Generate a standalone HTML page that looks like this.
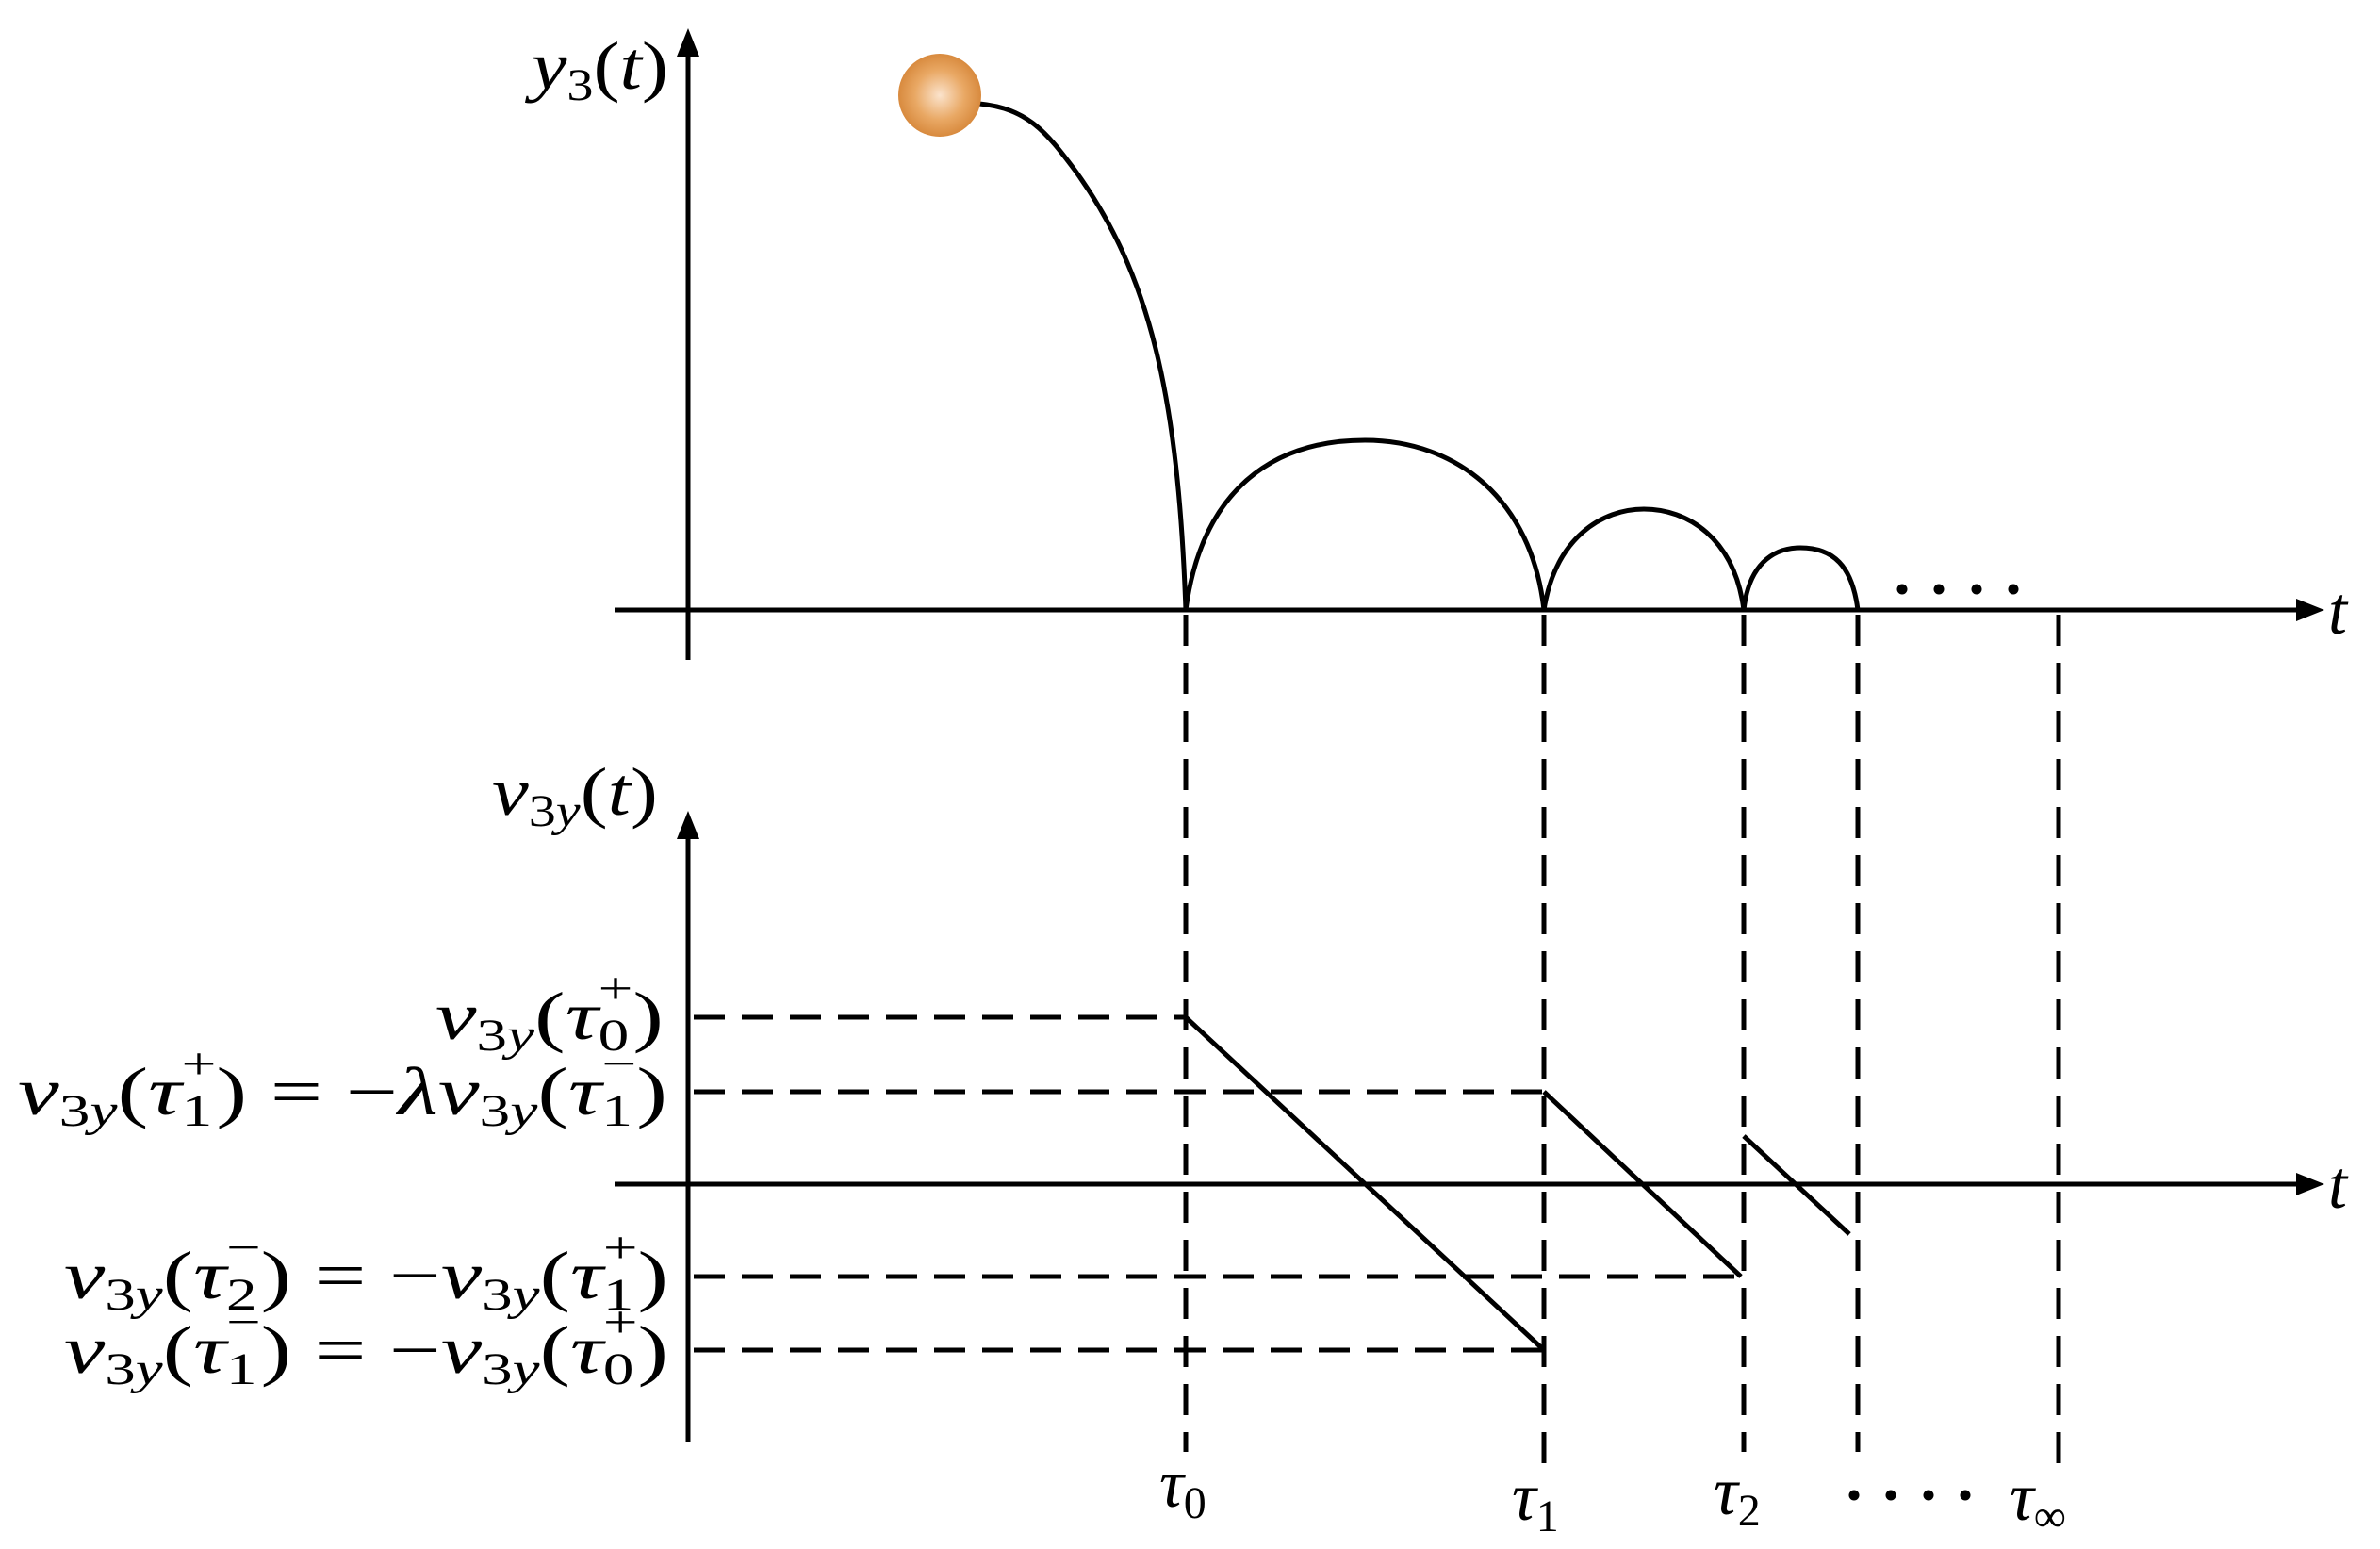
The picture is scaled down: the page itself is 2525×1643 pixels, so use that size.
<!DOCTYPE html>
<html><head><meta charset="utf-8"><style>
html,body{margin:0;padding:0;background:#fff;}
svg{display:block;}
text{font-family:"Liberation Serif","DejaVu Serif",serif;fill:#000;}
.m{font-style:italic;font-size:72px;}
.r{font-style:normal;}
.s{font-size:48px;}
</style></head><body>
<svg width="2525" height="1643" viewBox="0 0 2525 1643" xmlns="http://www.w3.org/2000/svg">
<defs>
<radialGradient id="g" cx="0.5" cy="0.5" r="0.5">
<stop offset="0" stop-color="#fbe3cc"/><stop offset="0.6" stop-color="#e9a864"/><stop offset="1" stop-color="#d88a3e"/>
</radialGradient>
</defs>
<g stroke="#000" stroke-width="5" fill="none">
<line x1="730" y1="700" x2="730" y2="50"/>
<line x1="652" y1="647" x2="2440" y2="647"/>
<line x1="730" y1="1530" x2="730" y2="880"/>
<line x1="652" y1="1256" x2="2440" y2="1256"/>
<path d="M1039,110 C1090,115 1110,140 1140,180 C1220,290 1250,420 1258,647"/>
<path d="M1258,647 C1275,520 1350,467 1448,467 C1546,467 1625,530 1638,647"/>
<path d="M1638,647 C1650,570 1700,540 1744,540 C1790,540 1840,570 1850,647"/>
<path d="M1850,647 C1855,600 1880,581 1910,581 C1945,581 1965,600 1971,647"/>
<line x1="1258" y1="1079" x2="1638" y2="1432"/>
<line x1="1638" y1="1158" x2="1847" y2="1354"/>
<line x1="1850" y1="1205" x2="1962" y2="1309"/>
</g>
<g stroke="#000" stroke-width="5" fill="none" stroke-dasharray="33 18">
<line x1="1258" y1="652" x2="1258" y2="1540"/>
<line x1="1638" y1="652" x2="1638" y2="1560"/>
<line x1="1850" y1="652" x2="1850" y2="1540"/>
<line x1="1971" y1="652" x2="1971" y2="1540"/>
<line x1="2184" y1="652" x2="2184" y2="1560"/>
<line x1="736" y1="1079" x2="1258" y2="1079"/>
<line x1="736" y1="1158" x2="1638" y2="1158"/>
<line x1="736" y1="1354" x2="1840" y2="1354"/>
<line x1="736" y1="1432" x2="1638" y2="1432"/>
</g>
<polygon points="730,30 718,60 742,60" fill="#000"/>
<polygon points="2466,647 2436,635 2436,659" fill="#000"/>
<polygon points="730,860 718,890 742,890" fill="#000"/>
<polygon points="2466,1256 2436,1244 2436,1268" fill="#000"/>
<circle cx="997" cy="101" r="44" fill="url(#g)"/>
<g fill="#000">
<circle cx="2018" cy="625" r="5.5"/><circle cx="2057" cy="625" r="5.5"/><circle cx="2097" cy="625" r="5.5"/><circle cx="2136" cy="625" r="5.5"/>
<circle cx="1967" cy="1586" r="5.5"/><circle cx="2006" cy="1586" r="5.5"/><circle cx="2046" cy="1586" r="5.5"/><circle cx="2085" cy="1586" r="5.5"/>
</g>
<text class="m" x="2470" y="672" font-size="80">t</text>
<text class="m" x="2470" y="1281" font-size="80">t</text>
<text class="m" x="564" y="94" textLength="145" lengthAdjust="spacingAndGlyphs">y<tspan class="s r" dy="12">3</tspan><tspan class="r" dy="-12">(</tspan>t<tspan class="r">)</tspan></text>
<text class="m" x="522" y="864" textLength="176" lengthAdjust="spacingAndGlyphs">v<tspan class="s r" dy="12">3</tspan><tspan class="s">y</tspan><tspan class="r" dy="-12">(</tspan>t<tspan class="r">)</tspan></text>
<text class="m" x="462" y="1102" textLength="242" lengthAdjust="spacingAndGlyphs">v<tspan class="s r" dy="12">3</tspan><tspan class="s">y</tspan><tspan class="r" dy="-12">(</tspan>τ<tspan class="s r" dy="12">0</tspan><tspan class="s r" dx="-24" dy="-50">+</tspan><tspan class="r" dy="38">)</tspan></text>
<text class="m" x="19" y="1182" textLength="689" lengthAdjust="spacingAndGlyphs">v<tspan class="s r" dy="12">3</tspan><tspan class="s">y</tspan><tspan class="r" dy="-12">(</tspan>τ<tspan class="s r" dy="12">1</tspan><tspan class="s r" dx="-24" dy="-50">+</tspan><tspan class="r" dy="38">) = −</tspan>λv<tspan class="s r" dy="12">3</tspan><tspan class="s">y</tspan><tspan class="r" dy="-12">(</tspan>τ<tspan class="s r" dy="12">1</tspan><tspan class="s r" dx="-24" dy="-50">−</tspan><tspan class="r" dy="38">)</tspan></text>
<text class="m" x="68" y="1377" textLength="641" lengthAdjust="spacingAndGlyphs">v<tspan class="s r" dy="12">3</tspan><tspan class="s">y</tspan><tspan class="r" dy="-12">(</tspan>τ<tspan class="s r" dy="12">2</tspan><tspan class="s r" dx="-24" dy="-50">−</tspan><tspan class="r" dy="38">) = −</tspan>v<tspan class="s r" dy="12">3</tspan><tspan class="s">y</tspan><tspan class="r" dy="-12">(</tspan>τ<tspan class="s r" dy="12">1</tspan><tspan class="s r" dx="-24" dy="-50">+</tspan><tspan class="r" dy="38">)</tspan></text>
<text class="m" x="68" y="1456" textLength="641" lengthAdjust="spacingAndGlyphs">v<tspan class="s r" dy="12">3</tspan><tspan class="s">y</tspan><tspan class="r" dy="-12">(</tspan>τ<tspan class="s r" dy="12">1</tspan><tspan class="s r" dx="-24" dy="-50">−</tspan><tspan class="r" dy="38">) = −</tspan>v<tspan class="s r" dy="12">3</tspan><tspan class="s">y</tspan><tspan class="r" dy="-12">(</tspan>τ<tspan class="s r" dy="12">0</tspan><tspan class="s r" dx="-24" dy="-50">+</tspan><tspan class="r" dy="38">)</tspan></text>
<text class="m" x="1230" y="1598">τ<tspan class="s r" dy="12">0</tspan></text>
<text class="m" x="1604" y="1612">τ<tspan class="s r" dy="12">1</tspan></text>
<text class="m" x="1818" y="1606">τ<tspan class="s r" dy="12">2</tspan></text>
<text class="m" x="2132" y="1612">τ<tspan class="s r" dy="12">∞</tspan></text>
</svg>
</body></html>
